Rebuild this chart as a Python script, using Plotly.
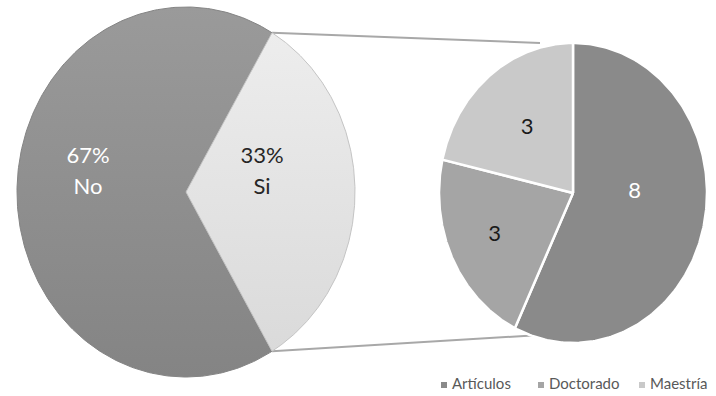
import numpy as np
import plotly.graph_objects as go

# ---------------- data ----------------
main_labels = ["No", "Si"]
main_values = [67, 33]
main_text = ["67%", "33%"]

sub_labels = ["Artículos", "Doctorado", "Maestría"]
sub_values = [8, 3, 3]

# ---------------- styling / layout constants ----------------
W, H = 716, 396
FONT = "Lato"
L_CX, L_CY, L_RX, L_RY = 186, 192, 169, 185
R_CX, R_CY, R_RX, R_RY = 573, 193, 134, 150

main_grad = [["#9a9a9a", "#848484"], ["#ededed", "#dadada"]]
main_textcolor = ["white", "#262626"]
main_label_r = [0.58, 0.45]

sub_colors = ["#8a8a8a", "#a5a5a5", "#c9c9c9"]
sub_textcolor = ["white", "#1a1a1a", "#1a1a1a"]
sub_label_r = [0.46, 0.65, 0.55]
sub_label_dtheta = [-13, 0, 0]

legend_x = [444, 541, 642]
legend_y = 385


def pt(cx, cy, rx, ry, theta):
    t = np.radians(theta)
    return cx + rx * np.sin(t), cy - ry * np.cos(t)


def wedge(cx, cy, rx, ry, t0, t1, n=240):
    th = np.linspace(t0, t1, n)
    xs, ys = pt(cx, cy, rx, ry, th)
    return np.concatenate([[cx], xs, [cx]]), np.concatenate([[cy], ys, [cy]])


fig = go.Figure()

# ---- main pie angles (Si slice centered to the right) ----
tot = sum(main_values)
span_si = 360 * main_values[1] / tot
si_t0, si_t1 = 90 - span_si / 2, 90 + span_si / 2
main_ranges = [(si_t1, si_t0 + 360), (si_t0, si_t1)]

# ---- connector lines ----
top_start = pt(L_CX, L_CY, L_RX, L_RY, si_t0)
bot_start = pt(L_CX, L_CY, L_RX, L_RY, si_t1)
top_end = (R_CX - 33, R_CY - R_RY)
bot_end = (R_CX - 33, R_CY + R_RY - 8)
for s, e in [(top_start, top_end), (bot_start, bot_end)]:
    fig.add_trace(go.Scatter(x=[s[0], e[0]], y=[s[1], e[1]], mode="lines",
                             line=dict(color="#a8a8a8", width=2),
                             hoverinfo="skip", showlegend=False))

# ---- main pie ----
for i, (lab, (t0, t1)) in enumerate(zip(main_labels, main_ranges)):
    xs, ys = wedge(L_CX, L_CY, L_RX, L_RY, t0, t1)
    fig.add_trace(go.Scatter(
        x=xs, y=ys, mode="lines", fill="toself",
        fillgradient=dict(type="vertical",
                          colorscale=[[0, main_grad[i][1]], [1, main_grad[i][0]]]),
        line=dict(color="#c4c4c4" if i == 1 else main_grad[i][1], width=1),
        name=lab, showlegend=False, hoverinfo="name"))

# main labels
for i, lab in enumerate(main_labels):
    t0, t1 = main_ranges[i]
    mid = (t0 + t1) / 2
    x, y = pt(L_CX, L_CY, L_RX * main_label_r[i], L_RY * main_label_r[i], mid)
    y -= 20
    fig.add_trace(go.Scatter(
        x=[x, x], y=[y - 15, y + 16], mode="text", text=[main_text[i], lab],
        textfont=dict(family=FONT, size=22, color=main_textcolor[i]),
        hoverinfo="skip", showlegend=False))

# ---- sub pie ----
stot = sum(sub_values)
cum = 0
for i, (lab, v) in enumerate(zip(sub_labels, sub_values)):
    t0 = 360 * cum / stot
    t1 = 360 * (cum + v) / stot
    cum += v
    xs, ys = wedge(R_CX, R_CY, R_RX, R_RY, t0, t1)
    fig.add_trace(go.Scatter(
        x=xs, y=ys, mode="lines", fill="toself", fillcolor=sub_colors[i],
        line=dict(color="white", width=2.5), name=lab,
        showlegend=False, hoverinfo="name"))
    mid = (t0 + t1) / 2 + sub_label_dtheta[i]
    x, y = pt(R_CX, R_CY, R_RX * sub_label_r[i], R_RY * sub_label_r[i], mid)
    fig.add_trace(go.Scatter(
        x=[x], y=[y], mode="text", text=[str(v)],
        textfont=dict(family=FONT, size=22, color=sub_textcolor[i]),
        hoverinfo="skip", showlegend=False))

# ---- legend (custom, compact) ----
fig.add_trace(go.Scatter(
    x=legend_x, y=[legend_y] * 3, mode="markers",
    marker=dict(symbol="square", size=6, color=sub_colors),
    hoverinfo="skip", showlegend=False))
fig.add_trace(go.Scatter(
    x=[lx + 8 for lx in legend_x], y=[legend_y] * 3, mode="text",
    text=sub_labels, textposition="middle right",
    textfont=dict(family=FONT, size=15, color="#595959"),
    hoverinfo="skip", showlegend=False))

fig.update_layout(
    width=W, height=H, margin=dict(l=0, r=0, t=0, b=0),
    paper_bgcolor="white", plot_bgcolor="white",
    xaxis=dict(range=[0, W], visible=False, fixedrange=True),
    yaxis=dict(range=[H, 0], visible=False, fixedrange=True),
    font=dict(family=FONT),
)

fig.write_html("out.html")
